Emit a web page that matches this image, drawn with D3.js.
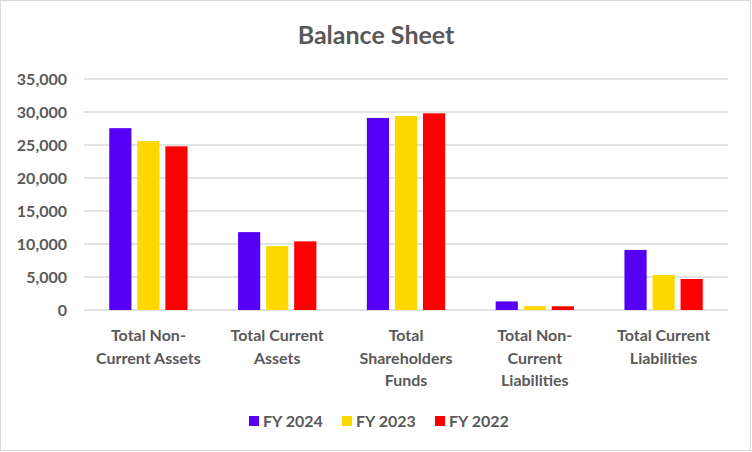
<!DOCTYPE html>
<html>
<head>
<meta charset="utf-8">
<script src="https://cdn.jsdelivr.net/npm/d3@7"></script>
<style>
  body { margin: 0; background: #fff; }
  text { font-family: Lato, "Open Sans", sans-serif; font-weight: 700; fill: #595959; }
</style>
</head>
<body>
<div id="chart"></div>
<script>
// Data
const categories = [
  "Total Non-Current Assets",
  "Total Current Assets",
  "Total Shareholders Funds",
  "Total Non-Current Liabilities",
  "Total Current Liabilities"
];
// wrapped tick labels, as in the original
const categoryLines = [
  ["Total Non-", "Current Assets"],
  ["Total Current", "Assets"],
  ["Total", "Shareholders", "Funds"],
  ["Total Non-", "Current", "Liabilities"],
  ["Total Current", "Liabilities"]
];
const seriesNames = ["FY 2024", "FY 2023", "FY 2022"];
const fy2024 = [27550, 11800, 29100, 1300, 9100];
const fy2023 = [25600, 9700, 29400, 580, 5300];
const fy2022 = [24800, 10400, 29800, 560, 4700];
const yTicks = [0, 5000, 10000, 15000, 20000, 25000, 30000, 35000];

const colors = ["#5500f5", "#ffd800", "#ff0000"];
const seriesValues = [fy2024, fy2023, fy2022];

const svgWidth = 752;
const svgHeight = 452;
const margin = { top: 79, right: 24, bottom: 142, left: 84 };
const width = svgWidth - margin.left - margin.right;
const height = svgHeight - margin.top - margin.bottom;

const svg = d3.select("#chart")
  .append("svg")
  .attr("width", svgWidth)
  .attr("height", svgHeight);

// outer chart border
svg.append("rect")
  .attr("x", 0.5).attr("y", 0.5)
  .attr("width", svgWidth - 2).attr("height", svgHeight - 2)
  .attr("fill", "#fff")
  .attr("stroke", "#d9d9d9");

svg.append("text")
  .attr("x", svgWidth / 2)
  .attr("y", 44)
  .attr("text-anchor", "middle")
  .style("font-size", "25px")
  .text("Balance Sheet");

const chartGroup = svg.append("g")
  .attr("transform", `translate(${margin.left}, ${margin.top})`);

// Scales
const x0 = d3.scaleBand()
  .domain(categories)
  .range([0, width]);

const x1 = d3.scaleBand()
  .domain(seriesNames)
  .range([0, x0.bandwidth()])
  .paddingInner(0.21)
  .paddingOuter(0.9);

const y = d3.scaleLinear()
  .domain([0, 35000])
  .range([height, 0]);

// Gridlines
chartGroup.append("g")
  .selectAll("line")
  .data(yTicks)
  .enter()
  .append("line")
  .attr("x1", 0)
  .attr("x2", width)
  .attr("y1", d => y(d))
  .attr("y2", d => y(d))
  .attr("stroke", "#d9d9d9")
  .attr("stroke-width", 1.3);

// Y axis labels
const leftAxis = d3.axisLeft(y)
  .tickValues(yTicks)
  .tickSize(0)
  .tickPadding(17)
  .tickFormat(d3.format(","));

const yAxis = chartGroup.append("g").call(leftAxis);
yAxis.select(".domain").remove();
yAxis.selectAll("text")
  .style("font-size", "16px")
  .attr("fill", null);

// Bars
const groups = chartGroup.selectAll(".cat")
  .data(categories)
  .enter()
  .append("g")
  .attr("class", "cat")
  .attr("transform", d => `translate(${x0(d)}, 0)`);

groups.selectAll("rect")
  .data((d, i) => seriesNames.map((s, j) => ({ s, v: seriesValues[j][i], c: colors[j] })))
  .enter()
  .append("rect")
  .attr("x", d => x1(d.s))
  .attr("width", x1.bandwidth())
  .attr("y", d => y(d.v))
  .attr("height", d => height - y(d.v))
  .attr("fill", d => d.c);

// X labels (wrapped)
const xLabels = chartGroup.selectAll(".xlab")
  .data(categories)
  .enter()
  .append("text")
  .attr("class", "xlab")
  .attr("text-anchor", "middle")
  .attr("transform", d => `translate(${x0(d) + x0.bandwidth() / 2}, ${height + 31})`)
  .style("font-size", "16px");

xLabels.selectAll("tspan")
  .data((d, i) => categoryLines[i])
  .enter()
  .append("tspan")
  .attr("x", 0)
  .attr("y", (d, i) => i * 22.5)
  .text(d => d);

// Legend
const legendX = [249, 342, 435];
const legend = svg.selectAll(".legend")
  .data(seriesNames)
  .enter()
  .append("g")
  .attr("class", "legend")
  .attr("transform", (d, i) => `translate(${legendX[i]}, 416)`);

legend.append("rect")
  .attr("width", 10)
  .attr("height", 10)
  .attr("fill", (d, i) => colors[i]);

legend.append("text")
  .attr("x", 14)
  .attr("y", 11)
  .style("font-size", "16px")
  .text(d => d);
</script>
</body>
</html>
